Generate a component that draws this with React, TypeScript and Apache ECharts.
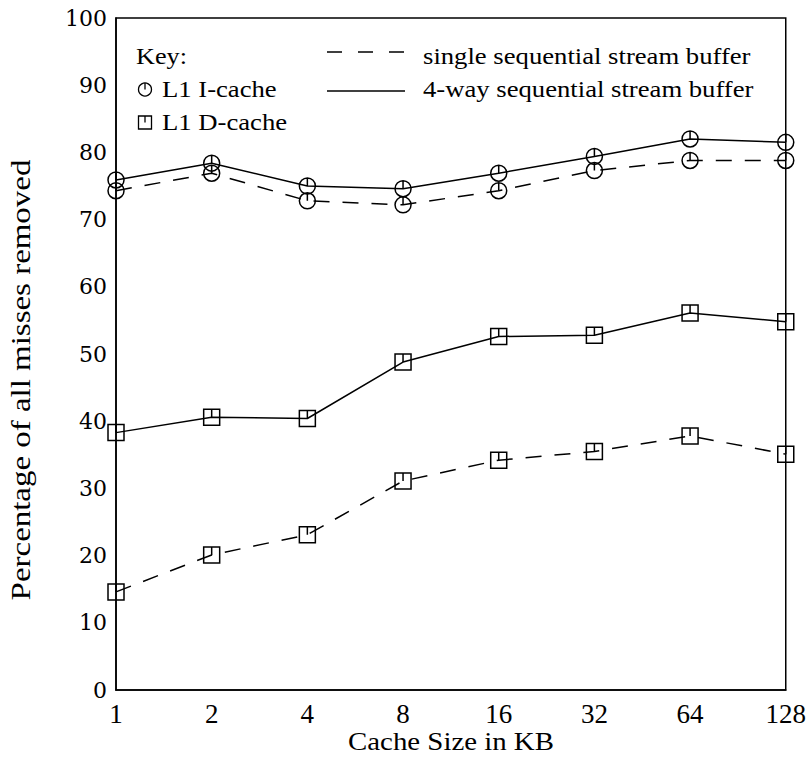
import React, { useEffect, useRef } from "react";
import * as echarts from "echarts";

const cacheSizes = ["1", "2", "4", "8", "16", "32", "64", "128"];
const iCacheSingle = [74.3, 76.9, 72.8, 72.2, 74.3, 77.3, 78.8, 78.8];
const iCache4Way = [75.9, 78.4, 75.0, 74.6, 76.9, 79.4, 82.0, 81.5];
const dCacheSingle = [14.6, 20.1, 23.1, 31.1, 34.2, 35.5, 37.8, 35.1];
const dCache4Way = [38.3, 40.6, 40.4, 48.8, 52.6, 52.8, 56.1, 54.8];
const yTicks = { min: 0, max: 100, interval: 10 };

const circleSym =
  "path://M10,0 A10,10 0 1 1 -10,0 A10,10 0 1 1 10,0 Z M0,-10 L0,0";
const squareSym = "path://M-10,-10 L10,-10 L10,10 L-10,10 Z M0,-10 L0,0";

const SERIF = "'Liberation Serif', 'Times New Roman', serif";
const DASH = [16, 13];

function mkSeries(name: string, data: number[], sym: string, dashed: boolean) {
  return {
    name,
    type: "line",
    data,
    symbol: sym,
    symbolSize: 16,
    showSymbol: true,
    itemStyle: { color: "rgba(0,0,0,0)", borderColor: "#000", borderWidth: 1.5 },
    lineStyle: { color: "#000", width: 1.5, type: dashed ? DASH : "solid" },
    emphasis: { disabled: true },
  };
}

export default function App() {
  const ref = useRef<HTMLDivElement>(null);
  useEffect(() => {
    if (!ref.current) return;
    const chart = echarts.init(ref.current, undefined, { renderer: "svg" });
    const legendFont = { fontFamily: SERIF, fontSize: 23, fill: "#000" };
    chart.setOption({
      animation: false,
      backgroundColor: "#fff",
      grid: {
        left: 116,
        right: 21,
        top: 18,
        bottom: 67,
        show: true,
        borderColor: "#000",
        borderWidth: 1.5,
      },
      xAxis: {
        type: "category",
        data: cacheSizes,
        boundaryGap: false,
        axisLine: { lineStyle: { color: "#000", width: 1.5 } },
        axisTick: { show: false },
        splitLine: { show: false },
        axisLabel: {
          color: "#000",
          fontFamily: SERIF,
          fontSize: 27,
          margin: 10,
        },
      },
      yAxis: {
        type: "value",
        min: yTicks.min,
        max: yTicks.max,
        interval: yTicks.interval,
        axisLine: { show: true, lineStyle: { color: "#000", width: 1.5 } },
        axisTick: { show: false },
        splitLine: { show: false },
        axisLabel: {
          color: "#000",
          fontFamily: "'DejaVu Serif', serif",
          fontSize: 22,
          margin: 9,
        },
      },
      series: [
        mkSeries("I single", iCacheSingle, circleSym, true),
        mkSeries("I 4-way", iCache4Way, circleSym, false),
        mkSeries("D single", dCacheSingle, squareSym, true),
        mkSeries("D 4-way", dCache4Way, squareSym, false),
      ],
      graphic: [
        {
          type: "text",
          x: 451,
          y: 741,
          scaleX: 1.11,
          style: {
            text: "Cache Size in KB",
            fontFamily: SERIF,
            fontSize: 26,
            fill: "#000",
            textAlign: "center",
            textVerticalAlign: "middle",
          },
        },
        {
          type: "text",
          x: 21,
          y: 380,
          rotation: Math.PI / 2,
          scaleX: 1.22,
          style: {
            text: "Percentage of all misses removed",
            fontFamily: SERIF,
            fontSize: 27,
            fill: "#000",
            textAlign: "center",
            textVerticalAlign: "middle",
          },
        },
        {
          type: "text",
          x: 136,
          y: 56,
          scaleX: 1.14,
          style: { ...legendFont, text: "Key:", textVerticalAlign: "middle" },
        },
        {
          type: "group",
          x: 145,
          y: 89.5,
          children: [
            {
              type: "circle",
              shape: { cx: 0, cy: 0, r: 6.5 },
              style: { fill: "none", stroke: "#000", lineWidth: 1.3 },
            },
            {
              type: "line",
              shape: { x1: 0, y1: -6.5, x2: 0, y2: 0 },
              style: { stroke: "#000", lineWidth: 1.3 },
            },
          ],
        },
        {
          type: "text",
          x: 162,
          y: 89,
          scaleX: 1.16,
          style: { ...legendFont, text: "L1 I-cache", textVerticalAlign: "middle" },
        },
        {
          type: "group",
          x: 145,
          y: 122.5,
          children: [
            {
              type: "rect",
              shape: { x: -6.5, y: -6.5, width: 13, height: 13 },
              style: { fill: "none", stroke: "#000", lineWidth: 1.3 },
            },
            {
              type: "line",
              shape: { x1: 0, y1: -6.5, x2: 0, y2: 0 },
              style: { stroke: "#000", lineWidth: 1.3 },
            },
          ],
        },
        {
          type: "text",
          x: 162,
          y: 122,
          scaleX: 1.16,
          style: { ...legendFont, text: "L1 D-cache", textVerticalAlign: "middle" },
        },
        {
          type: "line",
          shape: { x1: 327, y1: 52, x2: 405, y2: 52 },
          style: { stroke: "#000", lineWidth: 1.5, lineDash: [15, 16] },
        },
        {
          type: "line",
          shape: { x1: 327, y1: 91, x2: 405, y2: 91 },
          style: { stroke: "#000", lineWidth: 1.5 },
        },
        {
          type: "text",
          x: 423,
          y: 56,
          scaleX: 1.16,
          style: {
            ...legendFont,
            text: "single sequential stream buffer",
            textVerticalAlign: "middle",
          },
        },
        {
          type: "text",
          x: 423,
          y: 89,
          scaleX: 1.16,
          style: {
            ...legendFont,
            text: "4-way sequential stream buffer",
            textVerticalAlign: "middle",
          },
        },
      ],
    });
    return () => chart.dispose();
  }, []);
  return (
    <div
      ref={ref}
      style={{ position: "fixed", left: 0, top: 0, width: 809, height: 757 }}
    />
  );
}
